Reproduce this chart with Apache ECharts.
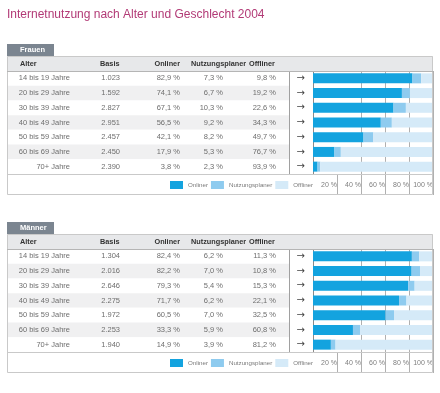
<!DOCTYPE html>
<html>
<head>
<meta charset="utf-8">
<script src="https://cdn.jsdelivr.net/npm/echarts@6/dist/echarts.min.js"></script>
<style>html,body{margin:0;padding:0;background:#fff}#c{width:440px;height:393px}</style>
</head>
<body>
<div id="c"></div>
<script>
const titleText = 'Internetnutzung nach Alter und Geschlecht 2004';
const ages = ['14 bis 19 Jahre','20 bis 29 Jahre','30 bis 39 Jahre','40 bis 49 Jahre','50 bis 59 Jahre','60 bis 69 Jahre','70+ Jahre'];
const seriesNames = ['Onliner','Nutzungsplaner','Offliner'];
const columnHeaders = ['Alter','Basis','Onliner','Nutzungsplaner','Offliner'];
const percentTicks = [20,40,60,80,100];

const frauenBasis    = [1023,1592,2827,2951,2457,2450,2390];
const frauenOnliner  = [82.9,74.1,67.1,56.5,42.1,17.9,3.8];
const frauenPlaner   = [7.3,6.7,10.3,9.2,8.2,5.3,2.3];
const frauenOffliner = [9.8,19.2,22.6,34.3,49.7,76.7,93.9];

const maennerBasis    = [1304,2016,2646,2275,1972,2253,1940];
const maennerOnliner  = [82.4,82.2,79.3,71.7,60.5,33.3,14.9];
const maennerPlaner   = [6.2,7.0,5.4,6.2,7.0,5.9,3.9];
const maennerOffliner = [11.3,10.8,15.3,22.1,32.5,60.8,81.2];

const FONT = '"Liberation Sans", Arial, Helvetica, sans-serif';
const colors = ['#13a3df','#8ecbef','#d5eaf8'];
const fmtPct = v => v.toFixed(1).replace('.', ',') + ' %';
const fmtNum = n => String(n).replace(/\B(?=(\d{3})+(?!\d))/g, '.');

const sections = [
  {label:'Frauen', dy:0, basis:frauenBasis, on:frauenOnliner, pl:frauenPlaner, off:frauenOffliner},
  {label:'M\u00e4nner', dy:178, basis:maennerBasis, on:maennerOnliner, pl:maennerPlaner, off:maennerOffliner}
];

const grid = [], xAxis = [], yAxis = [], series = [], legend = [], graphic = [];

sections.forEach((s, si) => {
  const top = 71 + s.dy;
  const tg = grid.length;
  grid.push({left:7, top:top, width:282, height:103, containLabel:false, outerBoundsMode:'none'});
  const bg = grid.length;
  grid.push({left:313, top:top, width:120, height:103, containLabel:false, outerBoundsMode:'none'});

  xAxis.push({type:'value', gridIndex:tg, min:0, max:1, show:false});
  xAxis.push({
    type:'value', gridIndex:bg, min:0, max:100, interval:20,
    axisLine:{show:false},
    splitLine:{show:true, showMinLine:false, lineStyle:{color:'#b0b0b0', width:1}},
    axisTick:{show:true, customValues:percentTicks, length:21, lineStyle:{color:'#b0b0b0'}},
    axisLabel:{customValues:percentTicks, formatter:v => v + ' %', align:'right', margin:8,
               fontSize:7, color:'#808080', fontFamily:FONT}
  });

  const cols = [
    {right:70, texts:ages},
    {right:120, texts:s.basis.map(fmtNum)},
    {right:180, texts:s.on.map(fmtPct)},
    {right:223, texts:s.pl.map(fmtPct)},
    {right:276, texts:s.off.map(fmtPct)}
  ];
  cols.forEach((c, ci) => {
    yAxis.push({
      type:'category', gridIndex:tg, inverse:true, data:ages, position:'left', offset:7 - c.right,
      axisLine:{show:false}, axisTick:{show:false}, splitLine:{show:false},
      splitArea: ci === 0 ? {show:true, areaStyle:{color:['#ffffff','#f0f0f1']}} : {show:false},
      axisLabel:{interval:0, margin:0, align:'right', formatter:(v, i) => c.texts[i],
                 fontSize:7.5, color:'#6e6e6e', fontFamily:FONT}
    });
  });
  // separator between table and arrows
  yAxis.push({
    type:'category', gridIndex:tg, inverse:true, data:ages, position:'right',
    axisLine:{show:true, lineStyle:{color:'#a0a0a0', width:1}}, axisTick:{show:false},
    axisLabel:{show:false}, splitLine:{show:false}
  });
  const barY = yAxis.length;
  yAxis.push({
    type:'category', gridIndex:bg, inverse:true, data:ages, position:'left',
    axisLine:{show:true, lineStyle:{color:'#8a8a8a', width:1}}, axisTick:{show:false},
    splitLine:{show:false},
    axisLabel:{interval:0, margin:8, align:'right', formatter:() => '\u2192',
               fontSize:10, color:'#444', fontFamily:'"DejaVu Sans", sans-serif'}
  });

  [s.on, s.pl, s.off].forEach((d, k) => {
    series.push({
      type:'bar', name:seriesNames[k], stack:'st' + si, xAxisIndex:bg, yAxisIndex:barY,
      data:d, barWidth:10, itemStyle:{color:colors[k]}, silent:true, animation:false
    });
  });

  legend.push({
    data:seriesNames, left:170, top:181 + s.dy, padding:0, icon:'rect',
    itemWidth:13, itemHeight:8, itemGap:3, selectedMode:false,
    textStyle:{fontSize:6.2, color:'#7a7a7a', fontFamily:FONT}
  });

  const dy = s.dy;
  // tab
  graphic.push({type:'rect', shape:{x:7, y:44 + dy, width:47, height:12}, style:{fill:'#7b8590'}, z:1});
  graphic.push({type:'text', style:{text:s.label, x:20, y:50 + dy, fill:'#ffffff',
    font:'bold 7.5px ' + FONT, align:'left', verticalAlign:'middle', textAlign:'left', textVerticalAlign:'middle'}, z:2});
  // header background
  graphic.push({type:'rect', shape:{x:7, y:56 + dy, width:426, height:15}, style:{fill:'#e7e8ea'}, z:1});
  // outer box
  graphic.push({type:'rect', shape:{x:7.5, y:56.5 + dy, width:425, height:138}, style:{fill:'none', stroke:'#c9c9c9', lineWidth:1}, z:3});
  graphic.push({type:'line', shape:{x1:7, y1:71.5 + dy, x2:433, y2:71.5 + dy}, style:{stroke:'#b5b5b5', lineWidth:1}, z:3});
  graphic.push({type:'line', shape:{x1:7, y1:174.5 + dy, x2:433, y2:174.5 + dy}, style:{stroke:'#c9c9c9', lineWidth:1}, z:3});
  // header texts
  const hx = [[20,'left'],[100,'left'],[180,'right'],[191,'left'],[249,'left']];
  columnHeaders.forEach((h, i) => {
    graphic.push({type:'text', style:{text:h, x:hx[i][0], y:63.5 + dy, fill:'#333333',
      font:'bold 7.3px ' + FONT, align:hx[i][1], verticalAlign:'middle', textAlign:hx[i][1], textVerticalAlign:'middle'}, z:4});
  });
});

const chart = echarts.init(document.getElementById('c'), null, {renderer:'canvas'});
chart.setOption({
  backgroundColor:'#ffffff',
  animation:false,
  title:{text:titleText, left:7, top:9, padding:0,
    textStyle:{fontSize:12, fontWeight:'normal', color:'#b23a76', fontFamily:FONT}},
  grid, xAxis, yAxis, series, legend, graphic
});
</script>
</body>
</html>
